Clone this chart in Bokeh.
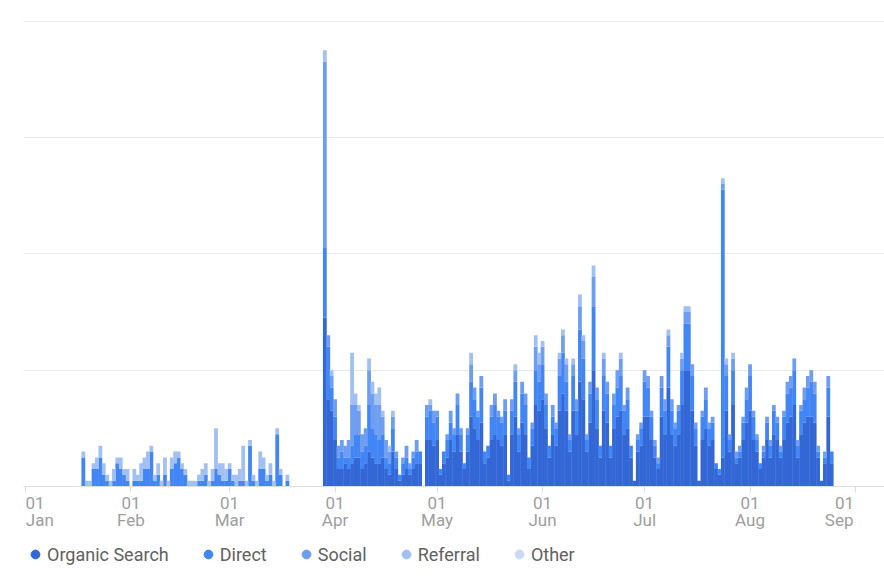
import pandas as pd
from bokeh.plotting import figure
from bokeh.layouts import column
from bokeh.models import (ColumnDataSource, Range1d, FixedTicker, Grid, Legend, LegendItem,
                          DatetimeAxis)
from bokeh.embed import file_html
from bokeh.resources import INLINE

# ---------------- data ----------------
series_names = ["Organic Search", "Direct", "Social", "Referral", "Other"]
series_colors = ["#3367d6", "#4285f4", "#6e9ef2", "#a3c0f5", "#c9daf8"]

tick_dates = ["2020-01-01", "2020-02-01", "2020-03-01", "2020-04-01", "2020-05-01",
              "2020-06-01", "2020-07-01", "2020-08-01", "2020-09-01"]
tick_day_labels = ["01", "01", "01", "01", "01", "01", "01", "01", "01"]
tick_month_labels = ["Jan", "Feb", "Mar", "Apr", "May", "Jun", "Jul", "Aug", "Sep"]
grid_values = [20, 40, 60, 80]

# early period: 18 Jan - 18 Mar (daily)
early_first_day = "2020-01-18"
early_direct = [5, 0, 0, 3, 3, 5, 2, 1, 0, 1, 4, 3, 2, 1, 0, 1, 1, 1, 3, 3,
                6, 1, 2, 0, 2, 0, 3, 4, 5, 3, 2, 0, 0, 0, 1, 1, 2, 0, 1, 3,
                2, 1, 1, 3, 1, 0, 1, 1, 0, 7, 1, 0, 3, 3, 1, 2, 0, 9, 2, 0, 1]
early_referral = [1, 1, 1, 1, 2, 2, 2, 1, 1, 2, 1, 2, 1, 2, 0, 2, 1, 3, 2, 3,
                  1, 1, 2, 1, 3, 1, 2, 2, 1, 1, 1, 1, 1, 1, 1, 2, 2, 1, 2, 7,
                  2, 3, 2, 1, 1, 2, 2, 6, 1, 1, 1, 1, 3, 2, 1, 2, 1, 1, 1, 0, 1]

# main period: 29 Mar - 25 Aug (daily)
main_first_day = "2020-03-29"
main_organic = [29, 15, 13, 8, 3, 3, 4, 3, 4, 5, 5, 3, 4, 6, 5, 4, 4, 5, 3, 2, 6, 3, 1, 2, 3, 2, 3, 4, 4, 0, 8, 8, 7, 8, 2, 4,
                5, 8, 6, 9, 6, 3, 6, 12, 10, 8, 11, 4, 5, 8, 9, 8, 7, 9, 1, 9, 12, 6, 11, 9, 3, 7, 14, 13, 15, 10, 5, 9, 7, 13, 16, 13, 6, 13,
                9, 18, 15, 6, 11, 20, 10, 5, 13, 11, 5, 10, 12, 13, 9, 10, 5, 1,
                6, 7, 12, 12, 8, 5, 3, 12, 9, 17, 9, 7, 9, 14, 20, 20, 13, 7, 1,
                8, 10, 7, 8, 3, 2, 5,
                13, 6, 14, 4, 5, 8, 11, 13, 8, 6, 3, 5, 8, 5, 9, 8, 5, 8, 11, 12, 14, 5, 9, 11, 12, 12, 11, 5,
                1, 4, 12, 4]
main_direct = [12, 9, 4, 4, 2, 3, 1, 2, 3, 4, 4, 3, 3, 8, 5, 5, 4, 4, 2, 2, 4, 2, 1, 2, 2, 1, 2, 2, 2, 0, 4, 5, 4, 4, 1, 2,
               3, 3, 3, 5, 3, 1, 3, 6, 5, 4, 6, 2, 2, 4, 5, 4, 4, 4, 1, 4, 6, 3, 5, 5, 2, 3, 6, 5, 6, 4, 2, 3, 3, 6, 7, 5, 2, 6,
               4, 9, 7, 2, 5, 11, 5, 2, 6, 5, 2, 4, 5, 6, 4, 5, 2, 0,
               2, 3, 6, 5, 4, 2, 1, 5, 4, 7, 4, 3, 4, 6, 8, 8, 6, 3, 0,
               4, 5, 3, 3, 1, 1, 46,
               6, 2, 6, 1, 1, 3, 4, 6, 4, 2, 1, 1, 3, 2, 4, 3, 1, 4, 5, 5, 6, 2, 4, 4, 5, 6, 5, 1,
               0, 1, 5, 2]
main_social = [32, 2, 2, 3, 2, 2, 2, 3, 7, 5, 4, 3, 3, 6, 6, 5, 6, 3, 3, 2, 2, 1, 0, 1, 2, 1, 1, 2, 0, 0, 2, 1, 2, 1, 0, 0,
               1, 2, 1, 2, 1, 0, 1, 3, 2, 1, 2, 0, 0, 2, 2, 1, 1, 2, 0, 2, 2, 1, 2, 2, 0, 1, 4, 3, 3, 2, 0, 2, 1, 3, 3, 3, 1, 2,
               2, 4, 3, 1, 2, 5, 2, 0, 3, 2, 0, 2, 3, 3, 1, 2, 0, 0,
               1, 1, 2, 2, 1, 1, 1, 2, 2, 2, 2, 1, 1, 2, 2, 2, 2, 1, 0,
               1, 2, 1, 1, 0, 0, 1,
               2, 1, 2, 1, 1, 1, 2, 2, 1, 1, 0, 1, 1, 1, 1, 1, 1, 1, 2, 2, 2, 1, 1, 2, 2, 2, 2, 1,
               0, 1, 2, 0]
main_referral = [2, 0, 1, 0, 0, 0, 0, 0, 9, 2, 1, 0, 0, 2, 2, 2, 3, 1, 0, 1, 1, 0, 0, 0, 0, 0, 0, 0, 0, 0, 0, 1, 0, 0, 0, 0,
                 0, 0, 0, 0, 0, 0, 0, 2, 0, 0, 0, 0, 0, 0, 0, 0, 0, 0, 0, 0, 1, 0, 0, 0, 0, 0, 2, 2, 1, 0, 0, 0, 0, 1, 1, 1, 0, 1,
                 0, 2, 1, 0, 0, 2, 0, 0, 1, 0, 0, 0, 0, 1, 0, 0, 0, 0,
                 0, 0, 0, 0, 0, 0, 0, 0, 0, 1, 0, 0, 0, 1, 1, 1, 0, 0, 0,
                 0, 0, 0, 0, 0, 0, 1,
                 1, 0, 1, 0, 0, 0, 0, 0, 0, 0, 0, 0, 0, 0, 0, 0, 0, 0, 0, 0, 0, 0, 0, 0, 0, 0, 0, 0,
                 0, 0, 0, 0]

# ---------------- sources ----------------
DAY_MS = 86400000
BAR_W = DAY_MS * 1.12   # slight overlap so neighbouring bars leave no seams
early_src = ColumnDataSource(dict(
    date=pd.date_range(early_first_day, periods=len(early_direct)),
    direct=early_direct, referral=early_referral))
main_src = ColumnDataSource(dict(
    date=pd.date_range(main_first_day, periods=len(main_organic)),
    organic=main_organic, direct=main_direct, social=main_social, referral=main_referral))

# ---------------- chart ----------------
px_per_day = 3.4016
x_start = pd.Timestamp("2020-01-01") - pd.Timedelta(days=2 / px_per_day)
x_end = x_start + pd.Timedelta(days=861 / px_per_day)

p = figure(x_axis_type="datetime", y_axis_location=None,
           width=884, height=540,
           x_range=Range1d(x_start, x_end), y_range=Range1d(0, 80.1),
           output_backend="svg", toolbar_location=None,
           min_border_left=23, min_border_right=0, min_border_top=20, min_border_bottom=54)
p.outline_line_color = None
p.background_fill_color = "white"
p.border_fill_color = "white"
p.xgrid.visible = False
p.ygrid.visible = False
p.add_layout(Grid(dimension=1, ticker=FixedTicker(ticks=grid_values),
                  grid_line_color="#e8e8e8", grid_line_width=1))

p.vbar_stack(["direct", "referral"], x="date", width=BAR_W, source=early_src,
             fill_color=[series_colors[1], series_colors[3]], line_color=None)
p.vbar_stack(["organic", "direct", "social", "referral"], x="date", width=BAR_W, source=main_src,
             fill_color=series_colors[:4], line_color=None)

LABEL_FONT = "Roboto"
LABEL_SIZE = "17px"
LABEL_COLOR = "#9e9e9e"
tick_ms = [pd.Timestamp(d).value // 10**6 for d in tick_dates]

# label anchors: centred on the month start, except the first / last which sit inside the plot
day_shift = [2.8, 0, 0, 0, 0, 0, 0, 0, -3.2]
month_shift = [4.2, 0, 0, 0, 0, 0, 0, 0, -4.8]
day_pos = [ms + s * DAY_MS for ms, s in zip(tick_ms, day_shift)]
month_pos = [ms + s * DAY_MS for ms, s in zip(tick_ms, month_shift)]

# axis 1: baseline + tick marks
ax = p.xaxis[0]
ax.ticker = FixedTicker(ticks=tick_ms)
ax.major_label_overrides = {float(ms): "" for ms in tick_ms}
ax.axis_line_color = "#dddddd"
ax.major_tick_line_color = "#dddddd"
ax.major_tick_out = 6
ax.major_tick_in = 0
ax.minor_tick_line_color = None
ax.major_label_standoff = 0
ax.major_label_text_font_size = "0px"

# axis 2: day numbers
ax_day = DatetimeAxis(ticker=FixedTicker(ticks=day_pos),
                      major_label_overrides={float(v): t for v, t in zip(day_pos, tick_day_labels)},
                      axis_line_color=None, major_tick_line_color=None, minor_tick_line_color=None,
                      major_tick_out=0, major_tick_in=0, major_label_standoff=4,
                      major_label_text_font=LABEL_FONT, major_label_text_font_size=LABEL_SIZE,
                      major_label_text_color=LABEL_COLOR)
p.add_layout(ax_day, "below")

# axis 3: month names
ax_month = DatetimeAxis(ticker=FixedTicker(ticks=month_pos),
                        major_label_overrides={float(v): t for v, t in zip(month_pos, tick_month_labels)},
                        axis_line_color=None, major_tick_line_color=None, minor_tick_line_color=None,
                        major_tick_out=0, major_tick_in=0, major_label_standoff=-2,
                        major_label_text_font=LABEL_FONT, major_label_text_font_size=LABEL_SIZE,
                        major_label_text_color=LABEL_COLOR)
p.add_layout(ax_month, "below")

# ---------------- legend strip ----------------
pl = figure(width=884, height=44, x_range=Range1d(0, 1), y_range=Range1d(0, 1),
            x_axis_location=None, y_axis_location=None, output_backend="svg",
            toolbar_location=None, min_border=0)
pl.outline_line_color = None
pl.xgrid.visible = False
pl.ygrid.visible = False
items = []
for name, col in zip(series_names, series_colors):
    # proxy point placed outside the strip's visible range; only its legend swatch is shown
    r = pl.scatter(x=[-5], y=[-5], marker="circle", size=9, fill_color=col, line_color=col)
    items.append(LegendItem(label=name, renderers=[r]))
legend = Legend(items=items, orientation="horizontal", location=(1, 19),
                glyph_width=22, glyph_height=22, label_standoff=1, spacing=28,
                padding=0, margin=0, border_line_color=None, background_fill_alpha=0,
                label_text_font="Roboto", label_text_font_size="18px",
                label_text_color="#616161")
pl.add_layout(legend, "center")

open("out.html", "w").write(file_html(column(p, pl, spacing=0), INLINE))
